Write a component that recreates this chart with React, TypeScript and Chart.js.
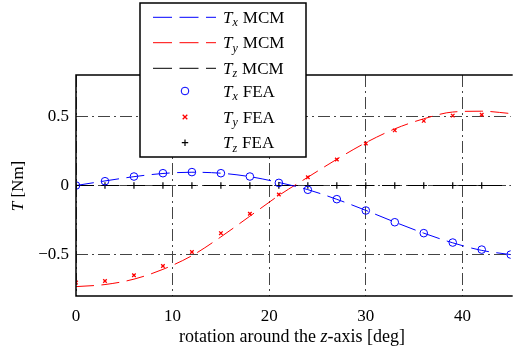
import { useEffect, useRef } from 'react';
import { Chart, registerables } from 'chart.js';

Chart.register(...registerables);

const SERIF = '"Liberation Serif", "Times New Roman", serif';

// rotation angle [deg]
const angles = [0, 3, 6, 9, 12, 15, 18, 21, 24, 27, 30, 33, 36, 39, 42, 45];

// MCM (lines)
const txMCM = [0, 0.033, 0.064, 0.087, 0.096, 0.089, 0.064, 0.022, -0.03, -0.1, -0.18, -0.265, -0.345, -0.415, -0.47, -0.5];
const tyMCM = [-0.732, -0.717, -0.678, -0.607, -0.508, -0.372, -0.222, -0.072, 0.06, 0.19, 0.31, 0.41, 0.483, 0.532, 0.538, 0.521];
const tzMCM = [0, 0, 0, 0, 0, 0, 0, 0, 0, 0, 0, 0, 0, 0, 0, 0];

// FEA (markers)
const txFEA = [0, 0.031, 0.065, 0.089, 0.097, 0.089, 0.065, 0.019, -0.031, -0.099, -0.181, -0.266, -0.345, -0.413, -0.464, -0.5];
const tyFEA = [-0.703, -0.691, -0.65, -0.583, -0.481, -0.345, -0.205, -0.065, 0.06, 0.188, 0.304, 0.399, 0.468, 0.506, 0.512, null];
const tzFEA = [0, 0, 0, 0, 0, 0, 0, 0, 0, 0, 0, 0, 0, 0, 0, null];

const xTicks = [0, 10, 20, 30, 40];
const yTicks = [-0.5, 0, 0.5];

const legendRows = [
  { kind: 'line', color: '#0000ff', sub: 'x', word: 'MCM' },
  { kind: 'line', color: '#ff0000', sub: 'y', word: 'MCM' },
  { kind: 'line', color: '#000000', sub: 'z', word: 'MCM' },
  { kind: 'circle', color: '#0000ff', sub: 'x', word: 'FEA' },
  { kind: 'crossRot', color: '#ff0000', sub: 'y', word: 'FEA' },
  { kind: 'cross', color: '#000000', sub: 'z', word: 'FEA' },
];

const pts = (ys: (number | null)[]) =>
  angles.map((a, i) => ({ x: a, y: ys[i] })).filter((p) => p.y !== null);

const fmtY = (v: number) => (v < 0 ? '\u2212' + Math.abs(v) : String(v));

const drawT = (ctx: CanvasRenderingContext2D, x: number, baseline: number, sub: string, word: string) => {
  ctx.fillStyle = '#000';
  ctx.textAlign = 'left';
  ctx.textBaseline = 'alphabetic';
  ctx.font = `italic 17px ${SERIF}`;
  ctx.fillText('T', x, baseline);
  x += ctx.measureText('T').width;
  ctx.font = `italic 12px ${SERIF}`;
  ctx.fillText(sub, x, baseline + 3.5);
  x += ctx.measureText(sub).width + 5;
  ctx.font = `17px ${SERIF}`;
  ctx.fillText(word, x, baseline);
};

const overlay = {
  id: 'overlay',
  afterDraw(chart: any) {
    const ctx: CanvasRenderingContext2D = chart.ctx;
    const { left, right, top, bottom } = chart.chartArea;
    ctx.save();
    // frame (left, top, bottom; right side falls outside the picture)
    ctx.strokeStyle = '#000';
    ctx.lineWidth = 1.5;
    ctx.setLineDash([]);
    ctx.beginPath();
    ctx.moveTo(right + 2, top);
    ctx.lineTo(left, top);
    ctx.lineTo(left, bottom);
    ctx.lineTo(right + 2, bottom);
    ctx.stroke();

    // x title
    ctx.fillStyle = '#000';
    ctx.textBaseline = 'alphabetic';
    const fs = 18;
    const p1 = 'rotation around the ';
    const p2 = 'z';
    const p3 = '-axis [deg]';
    ctx.font = `${fs}px ${SERIF}`;
    const w1 = ctx.measureText(p1).width;
    const w3 = ctx.measureText(p3).width;
    ctx.font = `italic ${fs}px ${SERIF}`;
    const w2 = ctx.measureText(p2).width;
    let tx = 292 - (w1 + w2 + w3) / 2;
    ctx.textAlign = 'left';
    ctx.font = `${fs}px ${SERIF}`;
    ctx.fillText(p1, tx, 342);
    tx += w1;
    ctx.font = `italic ${fs}px ${SERIF}`;
    ctx.fillText(p2, tx, 342);
    tx += w2;
    ctx.font = `${fs}px ${SERIF}`;
    ctx.fillText(p3, tx, 342);

    // y title
    ctx.save();
    ctx.translate(23, 186);
    ctx.rotate(-Math.PI / 2);
    ctx.font = `italic 17px ${SERIF}`;
    const wt = ctx.measureText('T').width;
    ctx.font = `17px ${SERIF}`;
    const wr = ctx.measureText(' [Nm]').width;
    let yx = -(wt + wr) / 2;
    ctx.font = `italic 17px ${SERIF}`;
    ctx.fillText('T', yx, 0);
    yx += wt;
    ctx.font = `17px ${SERIF}`;
    ctx.fillText(' [Nm]', yx, 0);
    ctx.restore();

    // legend box
    const bx = 140, by = 3, bw = 166, bh = 154;
    ctx.fillStyle = '#fff';
    ctx.fillRect(bx, by, bw, bh);
    ctx.strokeStyle = '#000';
    ctx.lineWidth = 1.5;
    ctx.strokeRect(bx, by, bw, bh);
    const rowY = [17.3, 42.7, 68.3, 91, 117, 142.7];
    legendRows.forEach((r, i) => {
      const cy = rowY[i];
      ctx.strokeStyle = r.color;
      ctx.lineWidth = 1;
      if (r.kind === 'line') {
        ctx.setLineDash([19, 7.5]);
        ctx.beginPath();
        ctx.moveTo(153, cy);
        ctx.lineTo(216, cy);
        ctx.stroke();
        ctx.setLineDash([]);
      } else if (r.kind === 'circle') {
        ctx.beginPath();
        ctx.arc(185, cy, 3.8, 0, Math.PI * 2);
        ctx.stroke();
      } else if (r.kind === 'crossRot') {
        const d = 2.3;
        ctx.lineWidth = 1.3;
        ctx.beginPath();
        ctx.moveTo(185 - d, cy - d);
        ctx.lineTo(185 + d, cy + d);
        ctx.moveTo(185 - d, cy + d);
        ctx.lineTo(185 + d, cy - d);
        ctx.stroke();
      } else {
        const d = 3.2;
        ctx.lineWidth = 1.2;
        ctx.beginPath();
        ctx.moveTo(185 - d, cy);
        ctx.lineTo(185 + d, cy);
        ctx.moveTo(185, cy - d);
        ctx.lineTo(185, cy + d);
        ctx.stroke();
      }
      drawT(ctx, 223, cy + 5.5, r.sub, r.word);
    });
    ctx.restore();
  },
};

export default function App() {
  const ref = useRef<HTMLCanvasElement | null>(null);
  useEffect(() => {
    if (!ref.current) return;
    const dash = [18, 7.5];
    const gridDash = [12, 4, 2, 4];
    const chart = new Chart(ref.current, {
      type: 'scatter',
      data: {
        datasets: [
          { label: 'Tx FEA', data: pts(txFEA), pointStyle: 'circle', pointRadius: 3.8, borderColor: '#0000ff', backgroundColor: 'transparent', borderWidth: 1, showLine: false },
          { label: 'Ty FEA', data: pts(tyFEA), pointStyle: 'crossRot', pointRadius: 2.5, borderColor: '#ff0000', backgroundColor: '#ff0000', borderWidth: 1.3, showLine: false },
          { label: 'Tz FEA', data: pts(tzFEA), pointStyle: 'cross', pointRadius: 3.3, borderColor: '#000000', backgroundColor: '#000000', borderWidth: 1.2, showLine: false },
          { label: 'Tx MCM', data: pts(txMCM), showLine: true, pointRadius: 0, borderColor: '#0000ff', borderWidth: 1, borderDash: dash, cubicInterpolationMode: 'monotone', fill: false },
          { label: 'Ty MCM', data: pts(tyMCM), showLine: true, pointRadius: 0, borderColor: '#ff0000', borderWidth: 1, borderDash: dash, cubicInterpolationMode: 'monotone', fill: false },
          { label: 'Tz MCM', data: pts(tzMCM), showLine: true, pointRadius: 0, borderColor: '#000000', borderWidth: 1, borderDash: dash, fill: false },
        ],
      },
      options: {
        animation: false,
        responsive: false,
        maintainAspectRatio: false,
        layout: { padding: { top: 75, left: 0, right: 0, bottom: 0 } },
        plugins: { legend: { display: false }, tooltip: { enabled: false } },
        scales: {
          x: {
            type: 'linear',
            min: 0,
            max: 45,
            afterBuildTicks: (s: any) => { s.ticks = xTicks.map((v) => ({ value: v })); },
            afterFit: (s: any) => { s.height = 58; },
            border: { display: false, dash: gridDash },
            grid: { color: '#444', lineWidth: 1, drawTicks: false },
            ticks: { color: '#000', font: { family: SERIF, size: 17 }, padding: 10, maxRotation: 0 },
          },
          y: {
            type: 'linear',
            min: -0.8,
            max: 0.8,
            afterBuildTicks: (s: any) => { s.ticks = yTicks.map((v) => ({ value: v })); },
            afterFit: (s: any) => { s.width = 76; },
            border: { display: false, dash: gridDash },
            grid: { color: '#444', lineWidth: 1, drawTicks: false },
            ticks: { color: '#000', font: { family: SERIF, size: 17 }, padding: 7, callback: (v: any) => fmtY(Number(v)) },
          },
        },
      },
      plugins: [overlay],
    });
    return () => chart.destroy();
  }, []);
  return (
    <div style={{ position: 'fixed', left: 0, top: 0, width: 516, height: 354, background: '#fff' }}>
      <canvas ref={ref} width={516} height={354} style={{ display: 'block' }} />
    </div>
  );
}
